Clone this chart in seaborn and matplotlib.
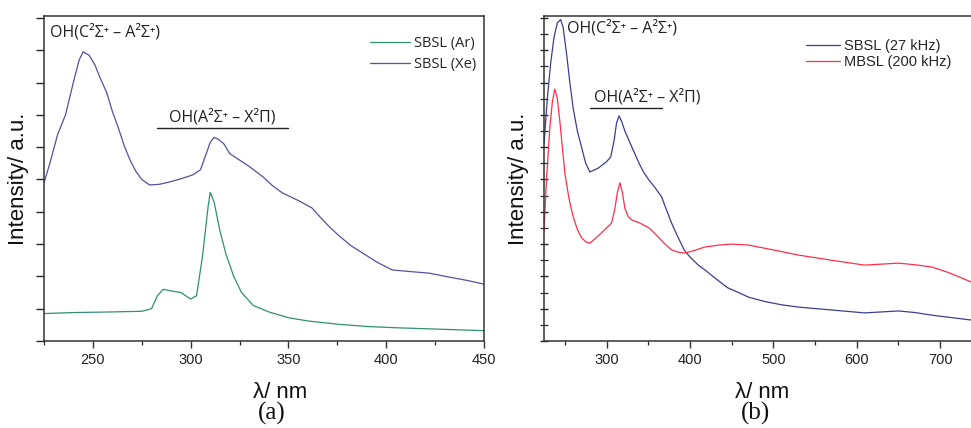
import numpy as np
import pandas as pd
import matplotlib
matplotlib.use("Agg")
import matplotlib.pyplot as plt
from matplotlib.ticker import MultipleLocator, NullFormatter
import seaborn as sns

# ---------------- data: panel (a) ----------------
xe_nm = [225, 228, 232, 236, 240, 243, 245, 248, 251, 254, 257, 260, 263, 266, 269,
         272, 275, 279, 284, 289, 295, 301, 305, 308, 310, 312, 314, 317, 320, 325,
         330, 337, 342, 347, 355, 362, 366, 371, 376, 382, 388, 395, 403, 412, 422,
         432, 441, 450]
xe_val = [4.9, 5.5, 6.4, 7.0, 8.0, 8.7, 8.95, 8.85, 8.55, 8.1, 7.7, 7.1, 6.6, 6.05, 5.6,
          5.25, 5.0, 4.83, 4.85, 4.92, 5.02, 5.14, 5.3, 5.8, 6.15, 6.3, 6.25, 6.1, 5.8, 5.6,
          5.4, 5.08, 4.8, 4.58, 4.35, 4.12, 3.85, 3.53, 3.25, 2.95, 2.72, 2.45, 2.2, 2.15, 2.1,
          1.98, 1.88, 1.76]

ar_nm = [225, 240, 260, 275, 280, 283, 286, 290, 295, 300, 303, 306, 309, 310, 312,
         315, 318, 322, 326, 332, 340, 350, 360, 375, 390, 405, 420, 435, 450]
ar_val = [0.85, 0.88, 0.9, 0.92, 1.0, 1.4, 1.6, 1.55, 1.5, 1.3, 1.4, 2.6, 4.2, 4.6, 4.3,
          3.4, 2.7, 2.0, 1.5, 1.1, 0.9, 0.72, 0.62, 0.52, 0.45, 0.41, 0.38, 0.35, 0.32]

# ---------------- data: panel (b) ----------------
sb_nm = [225, 229, 233, 237, 241, 245, 248, 252, 256, 260, 265, 270, 275, 280, 290,
         300, 305, 309, 312, 315, 318, 322, 327, 333, 339, 345, 351, 358, 366, 372,
         378, 385, 393, 400, 410, 418, 430, 445, 460, 470, 490, 510, 530, 570, 609,
         630, 650, 670, 690, 715, 737]
sb_val = [6.1, 7.5, 8.6, 9.4, 9.85, 9.95, 9.7, 8.9, 8.0, 7.2, 6.5, 6.0, 5.5, 5.23, 5.35,
          5.55, 5.7, 6.2, 6.75, 6.97, 6.8, 6.5, 6.2, 5.85, 5.5, 5.2, 4.98, 4.75, 4.46, 4.05,
          3.65, 3.25, 2.82, 2.6, 2.35, 2.2, 1.95, 1.65, 1.48, 1.36, 1.22, 1.12, 1.05, 0.96, 0.87,
          0.9, 0.93, 0.88, 0.8, 0.72, 0.65]

mb_nm = [225, 228, 232, 235, 238, 241, 244, 247, 250, 255, 260, 265, 270, 275, 280,
         290, 300, 306, 310, 313, 316, 319, 322, 326, 330, 340, 351, 357, 363, 370,
         378, 386, 394, 405, 418, 435, 450, 470, 500, 530, 570, 609, 630, 650, 670,
         690, 710, 737]
mb_val = [3.4, 5.0, 6.6, 7.4, 7.8, 7.5, 6.8, 6.0, 5.2, 4.4, 3.85, 3.45, 3.2, 3.07, 3.03,
          3.25, 3.5, 3.65, 4.1, 4.6, 4.9, 4.6, 4.1, 3.85, 3.75, 3.65, 3.5, 3.35, 3.19, 3.0,
          2.82, 2.75, 2.72, 2.8, 2.91, 2.97, 3.0, 2.97, 2.82, 2.66, 2.5, 2.35, 2.38, 2.41, 2.36,
          2.29, 2.12, 1.83]

labels_a = ["SBSL (Ar)", "SBSL (Xe)"]
labels_b = ["SBSL (27 kHz)", "MBSL (200 kHz)"]
xticks_a = [250, 300, 350, 400, 450]
xticks_b = [300, 400, 500, 600, 700]

df_a = pd.concat([
    pd.DataFrame({"nm": ar_nm, "val": ar_val, "series": labels_a[0]}),
    pd.DataFrame({"nm": xe_nm, "val": xe_val, "series": labels_a[1]}),
])
df_b = pd.concat([
    pd.DataFrame({"nm": sb_nm, "val": sb_val, "series": labels_b[0]}),
    pd.DataFrame({"nm": mb_nm, "val": mb_val, "series": labels_b[1]}),
])

sns.set_theme(style="ticks")
plt.rcParams["font.family"] = ["Liberation Sans", "DejaVu Sans"]

fig = plt.figure(figsize=(9.71, 4.28), dpi=100)
axa = fig.add_axes([44 / 971, 87 / 428, 440 / 971, 325 / 428])
axb = fig.add_axes([544 / 971, 87 / 428, 427 / 971, 325 / 428])

pal_a = {labels_a[0]: "#2f9070", labels_a[1]: "#5252a0"}
pal_b = {labels_b[0]: "#3d3d94", labels_b[1]: "#ff2e4c"}

sns.lineplot(data=df_a, x="nm", y="val", hue="series", palette=pal_a, ax=axa,
             estimator=None, linewidth=0.9)
sns.lineplot(data=df_b, x="nm", y="val", hue="series", palette=pal_b, ax=axb,
             estimator=None, linewidth=0.9)

ann_font = ["Open Sans", "DejaVu Sans"]
ann_size = 11.5

for ax in (axa, axb):
    ax.set_ylim(0, 10.06)
    ax.yaxis.set_major_formatter(NullFormatter())
    ax.set_ylabel("Intensity/ a.u.", fontsize=16, color="#111111")
    ax.set_xlabel("λ/ nm", fontsize=16, color="#111111")
    for s in ax.spines.values():
        s.set_color("#333333")
        s.set_linewidth(1.1)
    ax.tick_params(axis="x", labelsize=10.5, colors="#333333", labelcolor="#222222")
    ax.tick_params(axis="both", which="major", length=5, width=1.0)
    ax.tick_params(axis="both", which="minor", length=3, width=0.9)

# panel (a)
axa.set_xlim(225, 450)
axa.set_xticks(xticks_a)
axa.xaxis.set_minor_locator(MultipleLocator(25))
axa.yaxis.set_major_locator(MultipleLocator(1))
axa.tick_params(axis="y", direction="out", length=6)
axa.yaxis.set_label_coords(-0.034, 0.5)
axa.xaxis.set_label_coords(0.536, -0.125)

h, l = axa.get_legend_handles_labels()
axa.legend(h, l, loc="upper right", bbox_to_anchor=(1.012, 0.978), frameon=False,
           handlelength=2.7, handletextpad=0.3, labelspacing=0.4,
           prop={"family": ann_font, "size": 10.5})

axa.text(0.014, 0.951, "OH(C²Σ⁺ – A²Σ⁺)", transform=axa.transAxes, fontsize=ann_size,
         family=ann_font, va="center", ha="left", color="#222222")
axa.text(316, 6.93, "OH(A²Σ⁺ – X²Π)", fontsize=ann_size, family=ann_font,
         va="center", ha="center", color="#222222")
axa.plot([283, 350], [6.6, 6.6], color="#222222", lw=1.0)

# panel (b)
axb.set_xlim(225, 737)
axb.set_xticks(xticks_b)
axb.xaxis.set_minor_locator(MultipleLocator(50))
axb.yaxis.set_major_locator(MultipleLocator(1))
axb.yaxis.set_minor_locator(MultipleLocator(0.5))
axb.tick_params(axis="y", which="both", direction="inout", length=6)
axb.spines["right"].set_visible(False)
axb.yaxis.set_label_coords(-0.035, 0.5)
axb.xaxis.set_label_coords(0.511, -0.125)

h, l = axb.get_legend_handles_labels()
axb.legend(h, l, loc="upper right", bbox_to_anchor=(0.985, 0.97), frameon=False,
           handlelength=2.3, handletextpad=0.3, labelspacing=0.15,
           prop={"family": ["Liberation Sans", "DejaVu Sans"], "size": 10.5})

axb.text(0.054, 0.963, "OH(C²Σ⁺ – A²Σ⁺)", transform=axb.transAxes, fontsize=ann_size,
         family=ann_font, va="center", ha="left", color="#222222")
axb.text(285, 7.55, "OH(A²Σ⁺ – X²Π)", fontsize=ann_size, family=ann_font,
         va="center", ha="left", color="#222222")
axb.plot([280, 366], [7.21, 7.21], color="#222222", lw=1.0)

fig.text(0.280, 0.035, "(a)", fontsize=18, family=["Liberation Serif", "DejaVu Serif"],
         ha="center", va="center", color="#111111")
fig.text(0.778, 0.035, "(b)", fontsize=18, family=["Liberation Serif", "DejaVu Serif"],
         ha="center", va="center", color="#111111")

fig.savefig("out.png", dpi=100)
